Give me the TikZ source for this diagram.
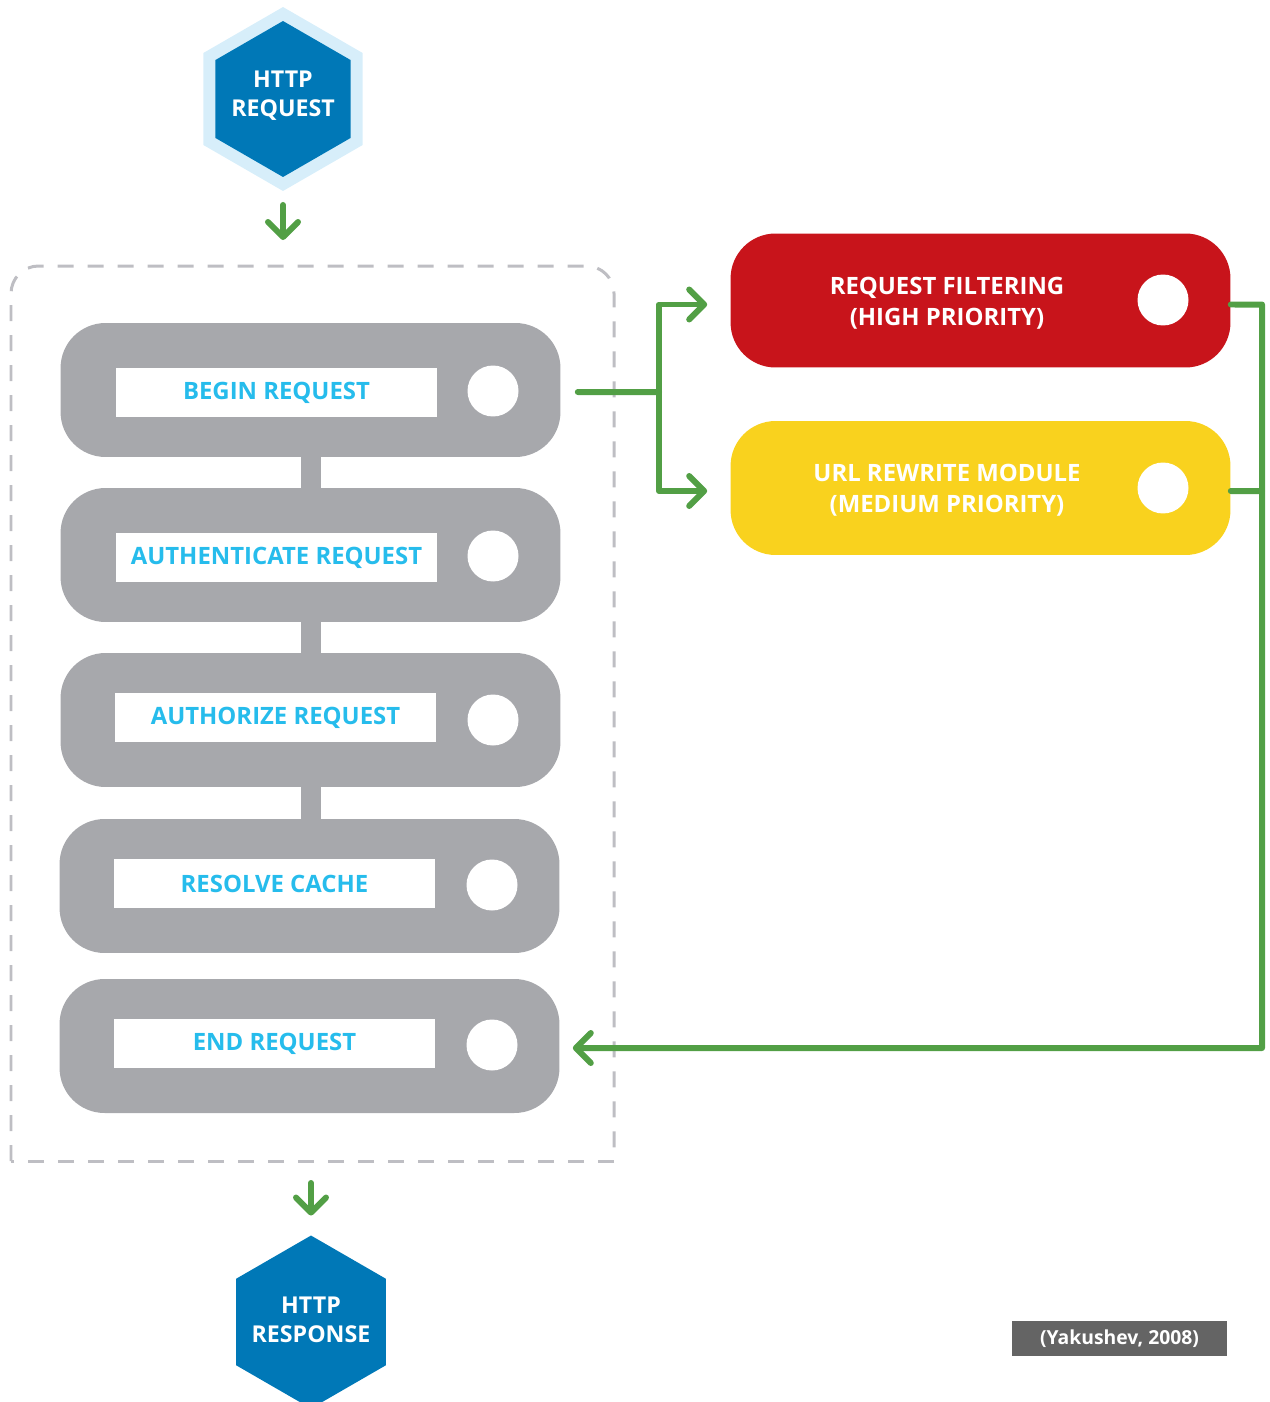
\documentclass[tikz,border=0pt]{standalone}
\usepackage{fontspec}
\setmainfont{Open Sans}
\usetikzlibrary{shapes.geometric}
\usetikzlibrary{positioning}
\usetikzlibrary{arrows.meta}

\definecolor{hexblue}{RGB}{0,120,183}
\definecolor{hexhalo}{RGB}{215,238,250}
\definecolor{stagegray}{RGB}{167,168,172}
\definecolor{labelcyan}{RGB}{38,188,236}
\definecolor{flowgreen}{RGB}{82,159,69}
\definecolor{filterred}{RGB}{200,20,27}
\definecolor{rewriteyellow}{RGB}{249,210,30}
\definecolor{framegray}{RGB}{190,190,195}
\definecolor{citegray}{RGB}{100,100,100}

\newcommand{\stagefont}{\fontsize{13.6}{16.5}\selectfont\bfseries}

\begin{document}
\begin{tikzpicture}[x=0.02cm, y=-0.02cm,
    hexa/.style = {regular polygon, regular polygon sides=6, shape border rotate=30, inner sep=0pt, outer sep=0pt},
    hexatext/.style = {text=white, align=center, font=\fontsize{13.2}{16.4}\selectfont\bfseries},
    stage/.style = {rectangle, rounded corners=0.9cm, fill=stagegray, minimum width=10cm, minimum height=2.68cm},
    stagelabel/.style = {fill=white, minimum width=6.42cm, minimum height=0.98cm, inner sep=0pt, text=labelcyan, font=\stagefont},
    knob/.style = {circle, fill=white, minimum size=1.02cm, inner sep=0pt},
    module/.style = {rectangle, rounded corners=0.9cm, minimum width=10cm, minimum height=2.68cm},
    moduletext/.style = {text=white, align=center, font=\fontsize{13.6}{17.6}\selectfont\bfseries},
    link/.style = {stagegray, line width=0.4cm},
    frameline/.style = {framegray, line width=0.06cm, dash pattern=on 0.32cm off 0.28cm},
    flowline/.style = {flowgreen, line width=0.12cm, line cap=round, line join=round},
    flow/.style = {flowline, -{Straight Barb[length=0.3cm, width=0.6cm, round]}}]

    \useasboundingbox (0,0) rectangle (1270,1402);

    % request hexagon
    \node (reqhalo) at (283,99) [hexa, fill=hexhalo, minimum size=3.68cm] {};
    \node (req) at (283,99) [hexa, fill=hexblue, minimum size=3.12cm] {};
    \node (reqtext) at (283,95.5) [hexatext] {HTTP\\REQUEST};

    % pipeline frame
    \coordinate (frametop) at (283,266);
    \coordinate (framebot) at (311,1161);
    \draw[frameline, rounded corners=0.55cm] (11,1161) -- (11,266) -- (614,266) -- (614,1161);
    \draw[frameline] (614,1161) -- (11,1161);

    \node (begin)  at (310.5,390)  [stage] {};
    \node (authn)  at (310.5,555)  [stage] {};
    \node (authz)  at (310.5,720)  [stage] {};
    \node (cache)  at (309.5,886)  [stage] {};
    \node (endreq) at (309.5,1046) [stage] {};

    \draw[link] (begin.south) -- (authn.north);
    \draw[link] (authn.south) -- (authz.north);
    \draw[link] (authz.south) -- (authz.south |- cache.north);

    \node (beginlbl)  at (276.5,392.5)  [stagelabel] {BEGIN REQUEST};
    \node (authnlbl)  at (276.5,557.5)  [stagelabel] {AUTHENTICATE REQUEST};
    \node (authzlbl)  at (275.5,717.5)  [stagelabel] {AUTHORIZE REQUEST};
    \node (cachelbl)  at (274.5,883.5)  [stagelabel] {RESOLVE CACHE};
    \node (endreqlbl) at (274.5,1043.5) [stagelabel] {END REQUEST};

    \node (beginknob)  at (493,391)  [knob] {};
    \node (authnknob)  at (493,556)  [knob] {};
    \node (authzknob)  at (493,720)  [knob] {};
    \node (cacheknob)  at (492,885)  [knob] {};
    \node (endreqknob) at (492,1045) [knob] {};

    % IIS modules
    \node (filter)  at (980.5,300.5) [module, fill=filterred] {};
    \node (rewrite) at (980.5,488)   [module, fill=rewriteyellow] {};
    \node (filtertext)  at (947,303.5) [moduletext] {REQUEST FILTERING\\(HIGH PRIORITY)};
    \node (rewritetext) at (947,490.5) [moduletext] {URL REWRITE MODULE\\(MEDIUM PRIORITY)};
    \node (filterknob)  at (1163,300) [knob] {};
    \node (rewriteknob) at (1163,488) [knob] {};

    % response hexagon
    \node (resp) at (311,1322) [hexa, fill=hexblue, minimum size=3.46cm] {};
    \node (resptext) at (311,1319.5) [hexatext] {HTTP\\RESPONSE};

    \node (cite) at (1119.5,1338.5) [fill=citegray, text=white, minimum width=4.3cm, minimum height=0.7cm, inner sep=0pt, font=\fontsize{11}{13}\selectfont\bfseries] {(Yakushev, 2008)};

    % flow arrows
    \coordinate (split) at (659,392);
    \coordinate (railtop) at (1262,304.5);
    \coordinate (railmid) at (1262,491);
    \coordinate (railbot) at (1262,1048);

    \draw[flow, shorten <=0.28cm, shorten >=0.52cm] (reqhalo.south) -- (reqhalo.south |- frametop);
    \draw[flowline] ([xshift=0.34cm,yshift=-0.04cm]begin.east) -- (split);
    \draw[flow] (split) |- ([xshift=-0.46cm,yshift=-0.08cm]filter.west);
    \draw[flow] (split) |- ([xshift=-0.46cm,yshift=-0.06cm]rewrite.west);
    \draw[flow] ([yshift=-0.08cm]filter.east) -- (railtop) -- (railbot) -- ([xshift=0.26cm,yshift=-0.04cm]endreq.east);
    \draw[flowline] ([yshift=-0.06cm]rewrite.east) -- (railmid);
    \draw[flow, shorten <=0.44cm, shorten >=0.4cm] (framebot) -- (resp.north);

\end{tikzpicture}
\end{document}
